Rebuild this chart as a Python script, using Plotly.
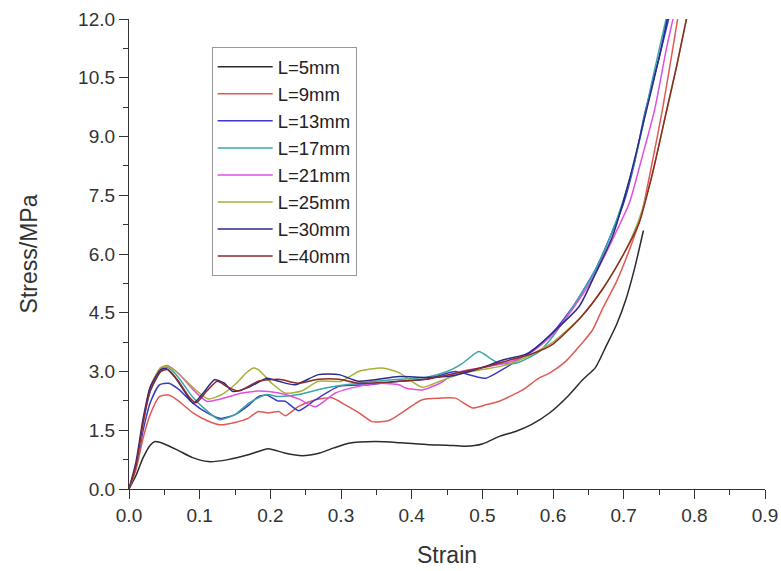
import plotly.graph_objects as go

# Stress-strain curves for different specimen lengths L
strain_5 = [0, 0.01, 0.02, 0.03, 0.037, 0.05, 0.07, 0.09, 0.112, 0.14, 0.17, 0.197, 0.22, 0.245, 0.27, 0.29,
            0.311, 0.349, 0.384, 0.424, 0.45, 0.476, 0.5, 0.525, 0.547, 0.57, 0.595, 0.62, 0.642, 0.66, 0.675,
            0.69, 0.703, 0.715, 0.728]
stress_5 = [0, 0.35, 0.8, 1.12, 1.21, 1.15, 0.98, 0.8, 0.70, 0.75, 0.88, 1.03, 0.92, 0.85, 0.92, 1.05,
            1.17, 1.21, 1.18, 1.13, 1.12, 1.09, 1.15, 1.35, 1.47, 1.65, 1.94, 2.35, 2.79, 3.1, 3.64,
            4.2, 4.83, 5.6, 6.6]

strain_9 = [0, 0.01, 0.02, 0.03, 0.043, 0.056, 0.07, 0.09, 0.11, 0.128, 0.15, 0.169, 0.183, 0.197, 0.212,
            0.221, 0.24, 0.264, 0.287, 0.306, 0.325, 0.344, 0.368, 0.382, 0.415, 0.44, 0.462, 0.486, 0.505,
            0.524, 0.557, 0.58, 0.595, 0.618, 0.64, 0.656, 0.67, 0.69, 0.71, 0.725, 0.74, 0.755, 0.77, 0.78]
stress_9 = [0, 0.5, 1.3, 1.9, 2.36, 2.4, 2.25, 1.95, 1.75, 1.64, 1.7, 1.81, 1.98, 1.94, 1.98,
            1.87, 2.11, 2.28, 2.33, 2.15, 1.95, 1.72, 1.75, 1.9, 2.28, 2.32, 2.32, 2.07, 2.15,
            2.24, 2.53, 2.83, 2.96, 3.26, 3.7, 4.06, 4.6, 5.3, 6.2, 7.0, 8.3, 9.7, 11.3, 12.4]

strain_13 = [0, 0.01, 0.02, 0.03, 0.043, 0.056, 0.07, 0.09, 0.11, 0.13, 0.15, 0.17, 0.183, 0.195, 0.21,
             0.221, 0.24, 0.264, 0.297, 0.34, 0.382, 0.42, 0.462, 0.485, 0.505, 0.533, 0.55, 0.575, 0.6,
             0.63, 0.66, 0.68, 0.7, 0.715, 0.73, 0.75, 0.765, 0.77]
stress_13 = [0, 0.6, 1.5, 2.2, 2.66, 2.7, 2.55, 2.2, 1.95, 1.8, 1.9, 2.15, 2.36, 2.4, 2.25,
             2.24, 2.0, 2.28, 2.62, 2.66, 2.75, 2.8, 3.0, 2.9, 2.83, 3.1, 3.3, 3.6, 4.0,
             4.7, 5.6, 6.4, 7.3, 8.3, 9.6, 11.0, 12.1, 12.5]

strain_17 = [0, 0.01, 0.02, 0.03, 0.045, 0.055, 0.07, 0.09, 0.11, 0.128, 0.15, 0.17, 0.195, 0.212, 0.24,
             0.278, 0.325, 0.382, 0.42, 0.45, 0.472, 0.495, 0.51, 0.524, 0.547, 0.58, 0.6, 0.63, 0.66,
             0.68, 0.7, 0.72, 0.74, 0.76, 0.77]
stress_17 = [0, 0.6, 1.7, 2.5, 3.0, 3.1, 2.85, 2.35, 2.0, 1.77, 1.9, 2.2, 2.41, 2.36, 2.41,
             2.58, 2.7, 2.8, 2.85, 3.0, 3.21, 3.51, 3.35, 3.21, 3.21, 3.5, 3.9, 4.7, 5.6,
             6.4, 7.4, 8.7, 10.4, 12.0, 12.8]

strain_21 = [0, 0.01, 0.02, 0.03, 0.045, 0.055, 0.07, 0.09, 0.11, 0.13, 0.16, 0.183, 0.212, 0.24, 0.264,
             0.292, 0.325, 0.354, 0.382, 0.391, 0.415, 0.44, 0.462, 0.5, 0.54, 0.57, 0.6, 0.63, 0.66,
             0.685, 0.708, 0.725, 0.744, 0.76, 0.771]
stress_21 = [0, 0.6, 1.7, 2.6, 3.1, 3.15, 2.95, 2.55, 2.24, 2.3, 2.45, 2.5, 2.45, 2.3, 2.1,
             2.45, 2.62, 2.7, 2.66, 2.58, 2.53, 2.7, 2.96, 3.1, 3.25, 3.5, 3.95, 4.65, 5.5,
             6.4, 7.3, 8.4, 9.7, 11.2, 12.1]

strain_25 = [0, 0.01, 0.02, 0.03, 0.045, 0.055, 0.07, 0.09, 0.112, 0.13, 0.152, 0.165, 0.176, 0.183, 0.202,
             0.221, 0.244, 0.268, 0.3, 0.325, 0.358, 0.382, 0.415, 0.44, 0.47, 0.5, 0.53, 0.56, 0.6,
             0.64, 0.67, 0.7, 0.72, 0.74, 0.76, 0.775, 0.79]
stress_25 = [0, 0.6, 1.7, 2.6, 3.1, 3.13, 2.95, 2.6, 2.3, 2.4, 2.7, 2.95, 3.09, 3.05, 2.7,
             2.45, 2.5, 2.75, 2.75, 3.0, 3.09, 2.97, 2.6, 2.75, 2.95, 3.05, 3.15, 3.35, 3.75,
             4.4, 5.1, 6.0, 6.8, 8.0, 9.6, 10.8, 12.1]

strain_30 = [0, 0.01, 0.02, 0.03, 0.045, 0.052, 0.065, 0.08, 0.091, 0.105, 0.121, 0.135, 0.147, 0.17, 0.195,
             0.212, 0.235, 0.268, 0.297, 0.325, 0.382, 0.42, 0.46, 0.5, 0.53, 0.566, 0.6, 0.637, 0.66,
             0.684, 0.708, 0.73, 0.75, 0.763]
stress_30 = [0, 0.7, 1.8, 2.6, 3.05, 3.08, 2.85, 2.45, 2.19, 2.45, 2.79, 2.7, 2.49, 2.6, 2.83,
             2.75, 2.66, 2.92, 2.92, 2.75, 2.87, 2.85, 2.9, 3.1, 3.3, 3.47, 4.0, 4.66, 5.5,
             6.44, 7.89, 9.5, 11.0, 12.1]

strain_40 = [0, 0.01, 0.02, 0.03, 0.045, 0.055, 0.07, 0.085, 0.095, 0.11, 0.125, 0.14, 0.155, 0.183, 0.212,
             0.24, 0.268, 0.297, 0.325, 0.382, 0.42, 0.46, 0.5, 0.54, 0.57, 0.6, 0.64, 0.67, 0.7,
             0.722, 0.74, 0.76, 0.775, 0.79]
stress_40 = [0, 0.6, 1.7, 2.5, 3.0, 3.05, 2.75, 2.35, 2.2, 2.5, 2.75, 2.6, 2.5, 2.75, 2.8,
             2.7, 2.8, 2.8, 2.7, 2.75, 2.8, 2.95, 3.1, 3.3, 3.45, 3.7, 4.4, 5.1, 6.0,
             6.8, 8.0, 9.6, 10.8, 12.1]

series = [
    ("L=5mm", strain_5, stress_5, "#2b2b2b"),
    ("L=9mm", strain_9, stress_9, "#e05a55"),
    ("L=13mm", strain_13, stress_13, "#3a3ac8"),
    ("L=17mm", strain_17, stress_17, "#3aa6a6"),
    ("L=21mm", strain_21, stress_21, "#e050e0"),
    ("L=25mm", strain_25, stress_25, "#a6b03a"),
    ("L=30mm", strain_30, stress_30, "#2a2a8a"),
    ("L=40mm", strain_40, stress_40, "#8a2a2a"),
]

x_ticks = [0.0, 0.1, 0.2, 0.3, 0.4, 0.5, 0.6, 0.7, 0.8, 0.9]
y_ticks = [0.0, 1.5, 3.0, 4.5, 6.0, 7.5, 9.0, 10.5, 12.0]

fig = go.Figure()
for name, xs, ys, color in series:
    fig.add_trace(go.Scatter(x=xs, y=ys, mode="lines", name=name,
                             line=dict(color=color, width=1.5, shape="spline", smoothing=0.6)))

font_family = "Liberation Sans, Arial, sans-serif"
axis_common = dict(
    showline=True, linecolor="#333333", linewidth=1.3, mirror=False,
    showgrid=False, zeroline=False, automargin=False,
    ticks="outside", ticklen=9, tickwidth=1.3, tickcolor="#333333",
    tickfont=dict(family=font_family, size=19, color="#333333"),
    tickformat=".1f",
)

fig.update_xaxes(range=[0, 0.9], tickvals=x_ticks,
                 minor=dict(dtick=0.05, ticks="outside", ticklen=5, tickcolor="#333333", tickwidth=1.3),
                 title=dict(text="Strain", font=dict(family=font_family, size=23, color="#333333"), standoff=21),
                 **axis_common)
fig.update_yaxes(range=[0, 12], tickvals=y_ticks,
                 minor=dict(dtick=0.75, ticks="outside", ticklen=5, tickcolor="#333333", tickwidth=1.3),
                 title=dict(text="Stress/MPa", font=dict(family=font_family, size=23, color="#333333"), standoff=34),
                 **axis_common)

fig.update_layout(
    width=781, height=571,
    margin=dict(l=129, r=16, t=19, b=82),
    paper_bgcolor="white", plot_bgcolor="white",
    font=dict(family=font_family, color="#333333"),
    legend=dict(x=0.13, y=0.94, xanchor="left", yanchor="top",
                bordercolor="#999999", borderwidth=1, bgcolor="white",
                font=dict(family=font_family, size=18.5, color="#222222"),
                itemwidth=55, tracegroupgap=0),
    showlegend=True,
)

fig.write_html("out.html")
